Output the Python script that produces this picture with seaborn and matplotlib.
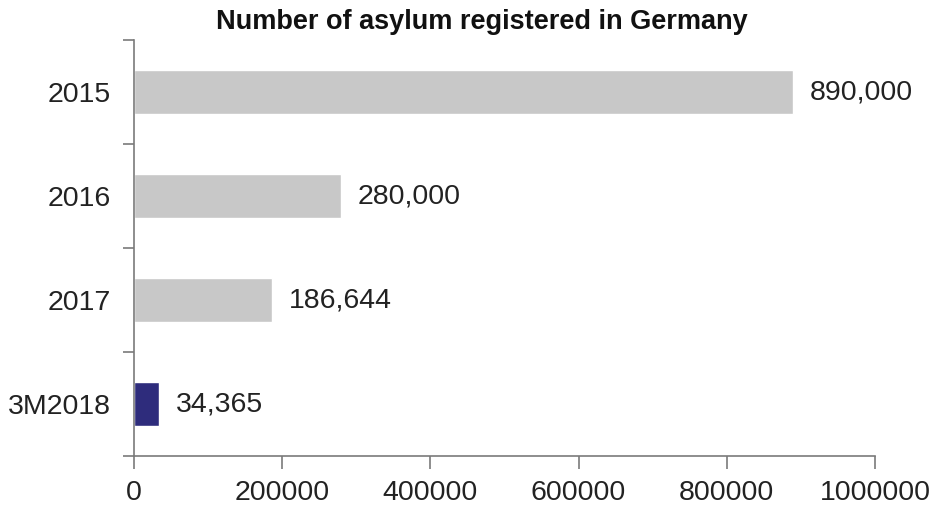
import matplotlib
matplotlib.use("Agg")
import matplotlib.pyplot as plt
import seaborn as sns
import pandas as pd
import numpy as np

years = ["2015", "2016", "2017", "3M2018"]
asylum = [890000, 280000, 186644, 34365]
value_labels = ["890,000", "280,000", "186,644", "34,365"]
bar_colors = ["#c8c8c8", "#c8c8c8", "#c8c8c8", "#2e2c7c"]

sns.set_theme(style="white")
plt.rcParams["font.family"] = ["Liberation Sans", "DejaVu Sans"]

df = pd.DataFrame({"year": years, "asylum": asylum})

fig = plt.figure(figsize=(9.36, 5.13), dpi=100)
ax = fig.add_axes([0.1432, 0.1111, 0.7916, 0.8109])

sns.barplot(data=df, y="year", x="asylum", hue="year", palette=bar_colors,
            orient="h", width=0.42, legend=False, ax=ax, saturation=1)

for i, (v, lab) in enumerate(zip(asylum, value_labels)):
    ax.text(v + 22000, i, lab, va="center", ha="left", fontsize=20.5, color="#222222")

ax.set_xlim(0, 1000000)
ax.set_ylim(3.5, -0.5)
ax.set_xticks(np.arange(0, 1000001, 200000))
ax.set_xticklabels([str(t) for t in range(0, 1000001, 200000)])
ax.set_xlabel("")
ax.set_ylabel("")

# category labels centred, tick marks on category boundaries
ax.set_yticks(range(len(years)))
ax.set_yticklabels(years)
ax.set_yticks(np.arange(-0.5, len(years), 1.0), minor=True)
ax.tick_params(axis="y", which="major", length=0, pad=17, labelsize=20.5, labelcolor="#222222")
ax.tick_params(axis="y", which="minor", length=8, width=1.2, color="#7a7a7a", direction="out", left=True)
ax.tick_params(axis="x", which="major", length=9, width=1.2, color="#7a7a7a", direction="out",
               bottom=True, pad=8, labelsize=20.5, labelcolor="#222222")

for s in ["top", "right"]:
    ax.spines[s].set_visible(False)
for s in ["left", "bottom"]:
    ax.spines[s].set_color("#7a7a7a")
    ax.spines[s].set_linewidth(1.2)

ax.set_title("Number of asylum registered in Germany", fontsize=19.5, fontweight="bold",
             color="#111111", x=0.47, pad=8)

fig.savefig("out.png", dpi=100)
